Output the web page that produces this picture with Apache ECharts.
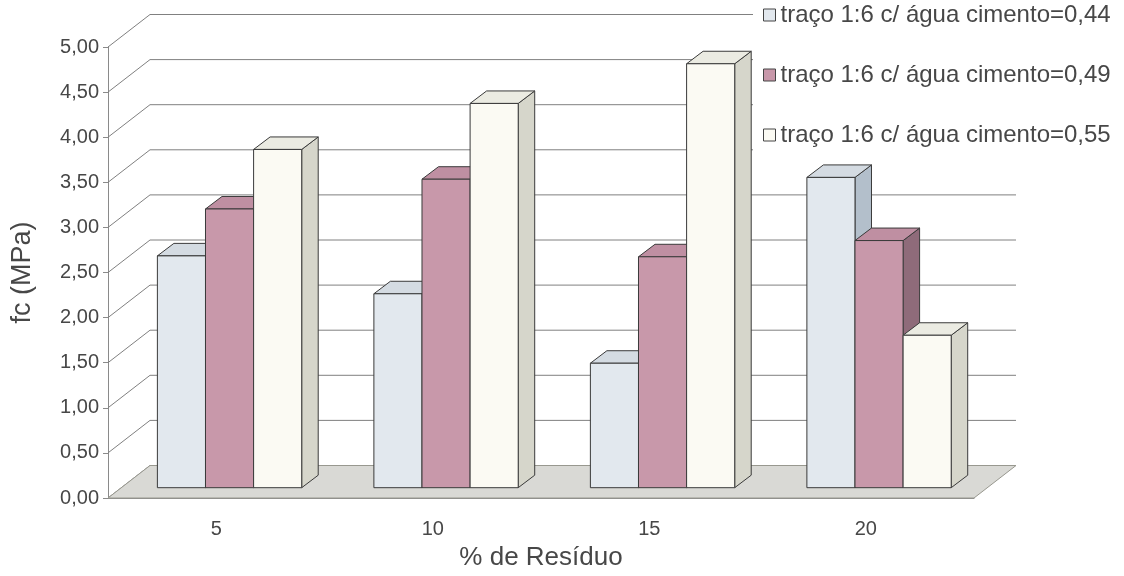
<!DOCTYPE html>
<html>
<head>
<meta charset="utf-8">
<script src="https://cdn.jsdelivr.net/npm/echarts@6/dist/echarts.min.js"></script>
<style>
  html, body { margin: 0; padding: 0; background: #ffffff; }
  #chart { width: 1124px; height: 576px; }
</style>
</head>
<body>
<div id="chart"></div>
<script>
// Categories (% of residue) and compressive strength per water/cement ratio
const categories = ['5', '10', '15', '20'];
const seriesNames = [
  'traço 1:6 c/ água cimento=0,44',
  'traço 1:6 c/ água cimento=0,49',
  'traço 1:6 c/ água cimento=0,55'
];
const ac044 = [2.57, 2.15, 1.38, 3.44];
const ac049 = [3.09, 3.42, 2.56, 2.74];
const ac055 = [3.75, 4.26, 4.70, 1.69];
const yTicks = [0, 0.5, 1, 1.5, 2, 2.5, 3, 3.5, 4, 4.5, 5];

// Pseudo-3D geometry (pixel offsets)
const WALL = [42, -32.5];        // floor / side wall depth
const BAR_SHIFT = [13.3, -10.3]; // front plane of the columns
const BAR_DEPTH = [16.5, -12.5]; // column depth
const GAP = 1.5;                 // gap between groups, in column widths

const FONT = "'Liberation Sans', Arial, sans-serif";
const TEXT = '#474747';
const EDGE = '#3a3a3a';

const faces = [
  { front: '#e2e8ee', top: '#d4dbe2', side: '#b3bfcb' },
  { front: '#c898aa', top: '#bf8fa2', side: '#8f6b7a' },
  { front: '#fbfaf3', top: '#ebebe2', side: '#d6d6cb' }
];

function fmt(v) { return v.toFixed(2).replace('.', ','); }

function columnSeries(name, values, idx) {
  const f = faces[idx];
  return {
    type: 'custom',
    name: name,
    z: 3,
    itemStyle: { color: f.front, borderColor: EDGE, borderWidth: 1 },
    data: values.map((v, i) => [i, v]),
    renderItem: function (params, api) {
      const c = api.value(0), v = api.value(1);
      const top = api.coord([c, v]);
      const base = api.coord([c, 0]);
      const band = api.size([1, 0])[0];
      const w = band / (3 + GAP);
      const x0 = top[0] - 1.5 * w + idx * w + BAR_SHIFT[0];
      const x1 = x0 + w;
      const yT = top[1] + BAR_SHIFT[1];
      const yB = base[1] + BAR_SHIFT[1];
      const dx = BAR_DEPTH[0], dy = BAR_DEPTH[1];
      const line = { stroke: EDGE, lineWidth: 1 };
      return {
        type: 'group',
        children: [
          { type: 'polygon',
            shape: { points: [[x1, yB], [x1 + dx, yB + dy], [x1 + dx, yT + dy], [x1, yT]] },
            style: Object.assign({ fill: f.side }, line) },
          { type: 'polygon',
            shape: { points: [[x0, yT], [x0 + dx, yT + dy], [x1 + dx, yT + dy], [x1, yT]] },
            style: Object.assign({ fill: f.top }, line) },
          { type: 'rect',
            shape: { x: x0, y: yT, width: w, height: yB - yT },
            style: Object.assign({ fill: f.front }, line) }
        ]
      };
    }
  };
}

// Back wall gridlines with the diagonal links to the front axis
const wallSeries = {
  type: 'custom',
  silent: true,
  z: 1,
  data: yTicks.map(v => [0, v]),
  renderItem: function (params, api) {
    const cs = params.coordSys;
    const y = api.coord([0, api.value(1)])[1];
    const xL = cs.x, xR = cs.x + cs.width;
    const st = { stroke: '#808080', lineWidth: 1 };
    return {
      type: 'group',
      children: [
        { type: 'line', shape: { x1: xL, y1: y, x2: xL + WALL[0], y2: y + WALL[1] }, style: st },
        { type: 'line', shape: { x1: xL + WALL[0], y1: y + WALL[1], x2: xR + WALL[0], y2: y + WALL[1] }, style: st }
      ]
    };
  }
};

// Floor plane
const floorSeries = {
  type: 'custom',
  silent: true,
  z: 2,
  data: [[0, 0]],
  renderItem: function (params, api) {
    const cs = params.coordSys;
    const y = api.coord([0, 0])[1];
    const xL = cs.x, xR = cs.x + cs.width;
    return {
      type: 'polygon',
      shape: { points: [[xL, y], [xL + WALL[0], y + WALL[1]], [xR + WALL[0], y + WALL[1]], [xR, y]] },
      style: { fill: '#d9d9d5', stroke: '#98988f', lineWidth: 1 }
    };
  }
};

const chart = echarts.init(document.getElementById('chart'));
chart.setOption({
  backgroundColor: '#ffffff',
  animation: false,
  textStyle: { fontFamily: FONT },
  grid: { left: 108, right: 150, top: 47, bottom: 75 },
  legend: {
    data: seriesNames,
    orient: 'vertical',
    left: 753,
    top: 0,
    padding: [3, 6, 14, 10],
    backgroundColor: '#ffffff',
    itemWidth: 12,
    itemHeight: 12,
    itemGap: 36,
    icon: 'rect',
    itemStyle: { borderColor: '#444', borderWidth: 1 },
    textStyle: { fontSize: 24, color: TEXT, fontFamily: FONT, lineHeight: 24 }
  },
  xAxis: {
    type: 'category',
    data: categories,
    name: '% de Resíduo',
    nameLocation: 'middle',
    nameGap: 47,
    nameTextStyle: { fontSize: 26, color: TEXT, fontFamily: FONT },
    axisLine: { lineStyle: { color: '#8a8a8a' } },
    axisTick: { length: 6, lineStyle: { color: '#8a8a8a' } },
    axisLabel: { fontSize: 20, color: TEXT, margin: 21, fontFamily: FONT },
    splitLine: { show: false }
  },
  yAxis: {
    type: 'value',
    min: 0,
    max: 5,
    interval: 0.5,
    name: 'fc (MPa)',
    nameLocation: 'middle',
    nameGap: 72,
    nameTextStyle: { fontSize: 27, color: TEXT, fontFamily: FONT },
    axisLine: { show: true, lineStyle: { color: '#8a8a8a' } },
    axisTick: { show: true, length: 5, lineStyle: { color: '#8a8a8a' } },
    axisLabel: { fontSize: 20, color: TEXT, margin: 9, fontFamily: FONT, formatter: fmt },
    splitLine: { show: false }
  },
  series: [
    wallSeries,
    floorSeries,
    columnSeries(seriesNames[0], ac044, 0),
    columnSeries(seriesNames[1], ac049, 1),
    columnSeries(seriesNames[2], ac055, 2)
  ]
});
</script>
</body>
</html>
